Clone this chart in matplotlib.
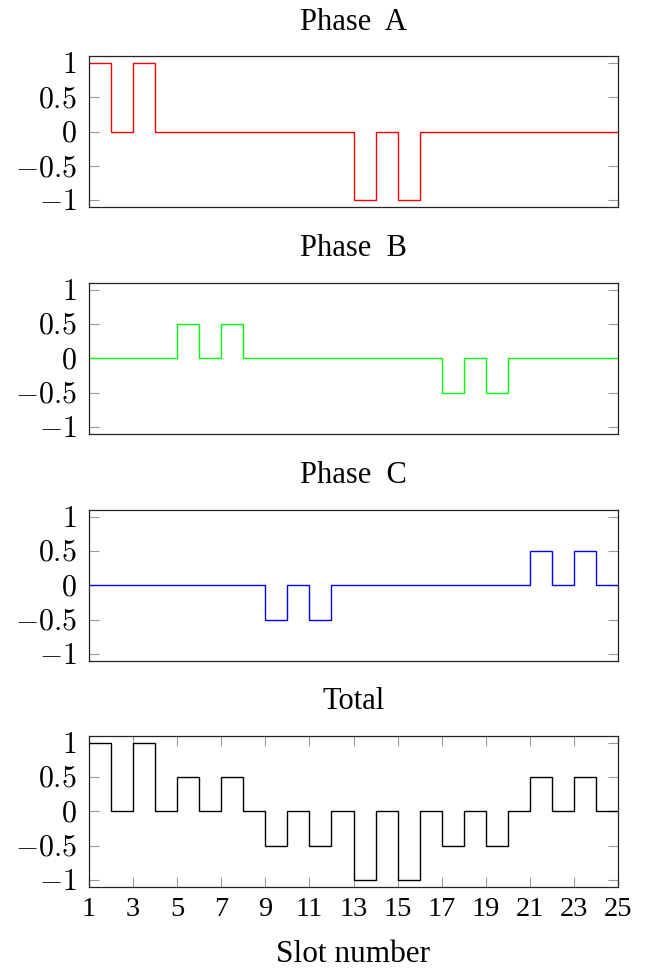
import matplotlib
matplotlib.use("Agg")
import matplotlib.pyplot as plt
import numpy as np

# ---- data ----
slot_edges = list(range(1, 26))  # slot boundaries 1..25
phase_a = [1, 0, 1, 0, 0, 0, 0, 0, 0, 0, 0, 0, -1, 0, -1, 0, 0, 0, 0, 0, 0, 0, 0, 0]
phase_b = [0, 0, 0, 0, 0.5, 0, 0.5, 0, 0, 0, 0, 0, 0, 0, 0, 0, -0.5, 0, -0.5, 0, 0, 0, 0, 0]
phase_c = [0, 0, 0, 0, 0, 0, 0, 0, -0.5, 0, -0.5, 0, 0, 0, 0, 0, 0, 0, 0, 0, 0.5, 0, 0.5, 0]
total = [a + b + c for a, b, c in zip(phase_a, phase_b, phase_c)]

titles = ["Phase  A", "Phase  B", "Phase  C", "Total"]
colors = ["#ff0000", "#00ff00", "#0000ff", "#000000"]
series = [phase_a, phase_b, phase_c, total]

ytick_vals = [-1, -0.5, 0, 0.5, 1]
ytick_labels = [r"$-1$", r"$-0.5$", r"$0$", r"$0.5$", r"$1$"]
xtick_vals = list(range(1, 26, 2))
xtick_labels = [str(v) for v in xtick_vals]
xlabel = "Slot number"

# ---- styling ----
plt.rcParams["font.family"] = ["Liberation Serif", "DejaVu Serif"]
plt.rcParams["mathtext.fontset"] = "cm"

fig = plt.figure(figsize=(6.54, 9.72), dpi=100)
W, H = 654.0, 972.0
left_px, right_px = 89.0, 618.0
bottoms_px = [207.3, 434.0, 661.0, 887.0]
height_px = 151.3

tick_color = "#9a9a9a"
spine_color = "#222222"

for i, (vals, col, title) in enumerate(zip(series, colors, titles)):
    ax = fig.add_axes([left_px / W, 1 - bottoms_px[i] / H,
                       (right_px - left_px) / W, height_px / H])
    ax.stairs(vals, slot_edges, baseline=None, color=col, linewidth=1.0, zorder=3)
    ax.set_xlim(1, 25)
    ax.set_ylim(-1.1, 1.1)
    ax.set_yticks(ytick_vals)
    ax.set_yticklabels(ytick_labels, fontsize=21.5)
    ax.tick_params(axis="y", direction="in", length=7, width=0.8,
                   color=tick_color, left=True, right=True, pad=9)
    if i == 3:
        ax.set_xticks(xtick_vals)
        ax.set_xticklabels(xtick_labels, fontsize=20.5)
        ax.tick_params(axis="x", direction="in", length=7, width=0.8,
                       color=tick_color, top=True, bottom=True, pad=7)
        ax.set_xlabel(xlabel, fontsize=22.5, labelpad=13)
    else:
        ax.set_xticks([])
    for s in ax.spines.values():
        s.set_color(spine_color)
        s.set_linewidth(0.9)
        s.set_zorder(4)
    ax.set_title(title, fontsize=22, pad=19)

fig.savefig("out.png", dpi=100)
